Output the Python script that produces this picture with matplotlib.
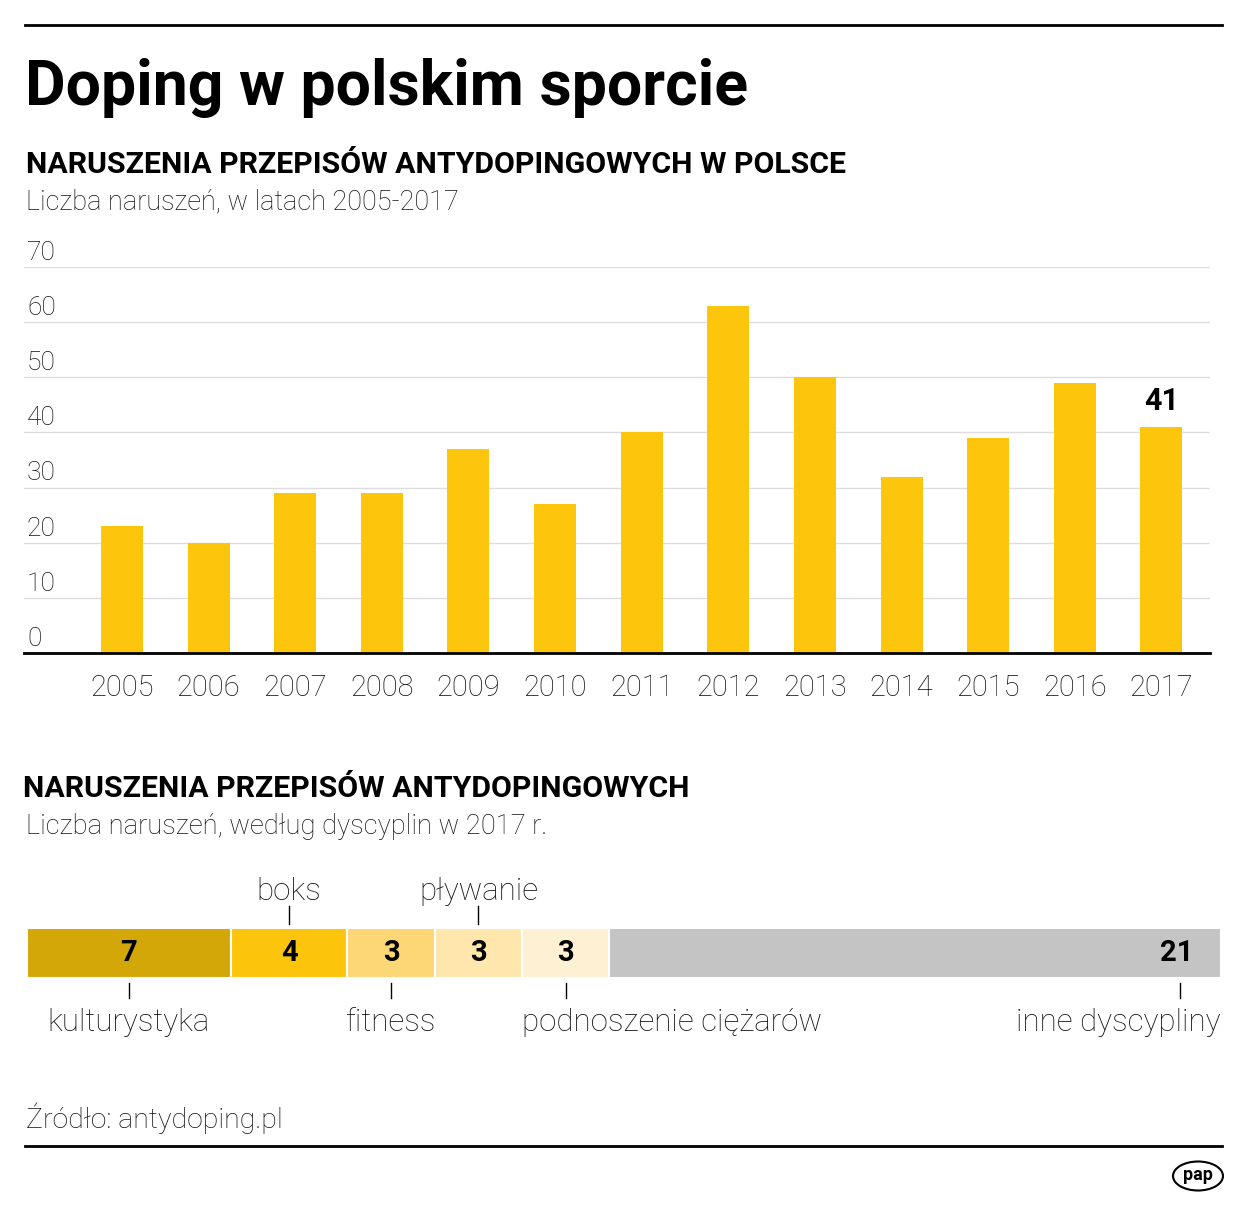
import numpy as np
import matplotlib
matplotlib.use('Agg')
import matplotlib.pyplot as plt
from matplotlib.patches import Ellipse

plt.rcParams['font.family'] = ['Roboto', 'DejaVu Sans']

# data
years = ['2005', '2006', '2007', '2008', '2009', '2010', '2011',
         '2012', '2013', '2014', '2015', '2016', '2017']
cases = [23, 20, 29, 29, 37, 27, 40, 63, 50, 32, 39, 49, 41]
yticks = [0, 10, 20, 30, 40, 50, 60, 70]

disciplines = ['kulturystyka', 'boks', 'fitness', 'pływanie',
               'podnoszenie ciężarów', 'inne dyscypliny']
disc_vals = [7, 4, 3, 3, 3, 21]
disc_cols = ['#D4A708', '#FDC40C', '#FDD775', '#FEE6AD', '#FEF0D2', '#C4C4C4']

W, H = 1250, 1205
TXT = '#111111'
fig = plt.figure(figsize=(W / 100, H / 100), dpi=100)

# overlay in pixel coords for texts and rules
ov = fig.add_axes([0, 0, 1, 1])
ov.set_xlim(0, W)
ov.set_ylim(H, 0)
ov.axis('off')

def px(x0, y0, x1, y1):
    return [x0 / W, 1 - y1 / H, (x1 - x0) / W, (y1 - y0) / H]

ov.plot([25, 1222], [25, 25], color='black', lw=2)
ov.plot([25, 1222], [1146, 1146], color='black', lw=2)

ov.text(25, 88, 'Doping w polskim sporcie', fontsize=45, fontweight='bold',
        va='center', ha='left')
ov.text(26, 165, 'NARUSZENIA PRZEPISÓW ANTYDOPINGOWYCH W POLSCE', fontsize=21.8,
        fontweight='bold', va='center', ha='left')
ov.text(26, 202, 'Liczba naruszeń, w latach 2005-2017', fontsize=19.5,
        fontweight='light', color=TXT, va='center', ha='left')

ov.text(23, 789, 'NARUSZENIA PRZEPISÓW ANTYDOPINGOWYCH', fontsize=21.8,
        fontweight='bold', va='center', ha='left')
ov.text(26, 826, 'Liczba naruszeń, według dyscyplin w 2017 r.', fontsize=19.7,
        fontweight='light', color=TXT, va='center', ha='left')

ov.text(26, 1118, 'Źródło: antydoping.pl', fontsize=20.5, fontweight='light',
        color=TXT, va='center', ha='left')

# pap logo
ov.add_patch(Ellipse((1198, 1176), 50, 29, facecolor='white',
                     edgecolor='black', lw=1.5))
ov.text(1198, 1175, 'pap', fontsize=13, fontweight='bold', ha='center',
        va='center')

# bar chart
ax = fig.add_axes(px(24, 267, 1210, 653))
x = np.arange(len(years))
ax.bar(x, cases, width=0.485, color='#FDC50C', zorder=2)
ax.set_xlim(-1.13, 12.56)
ax.set_ylim(0, 70)
ax.set_yticks(yticks)
ax.yaxis.grid(True, color='#DDDDDD', lw=1)
ax.set_axisbelow(True)
ax.tick_params(axis='y', length=0, labelleft=False)
ax.set_xticks(x)
ax.set_xticklabels(years, fontsize=21, fontweight='light', color=TXT)
ax.tick_params(axis='x', length=0, pad=15)
for s in ['top', 'right', 'left']:
    ax.spines[s].set_visible(False)
ax.spines['bottom'].set_linewidth(2)
ax.spines['bottom'].set_zorder(3)

for v in yticks:
    ax.annotate(str(v), xy=(0.0025, v), xycoords=('axes fraction', 'data'),
                xytext=(0, 1.5), textcoords='offset points', fontsize=19,
                fontweight='light', color=TXT, ha='left', va='bottom')

ax.annotate(str(cases[-1]), xy=(x[-1], cases[-1]), xytext=(0, 8),
            textcoords='offset points', fontsize=22, fontweight='bold',
            ha='center', va='bottom')

# stacked discipline bar
ax2 = fig.add_axes(px(27, 928, 1221, 978))
total = sum(disc_vals)
lefts = np.concatenate([[0], np.cumsum(disc_vals)[:-1]])
ax2.barh(0, disc_vals, left=lefts, height=1, color=disc_cols,
         edgecolor='white', lw=1.5)
ax2.set_xlim(0, total)
ax2.set_ylim(-0.5, 0.5)
ax2.axis('off')

unit = 1194 / total  # pixels per case
for i, (lab, v, l) in enumerate(zip(disciplines, disc_vals, lefts)):
    last = i == len(disc_vals) - 1
    if last:
        tx = total - 41 / unit
        ax2.text(total - 28 / unit, 0, str(v), fontsize=21, fontweight='bold',
                 ha='right', va='center')
    else:
        tx = l + v / 2
        ax2.text(tx, 0, str(v), fontsize=21, fontweight='bold',
                 ha='center', va='center')
    if lab in ('boks', 'pływanie'):
        ax2.plot([tx, tx], [1.08, 1.44], color='black', lw=1,
                 transform=ax2.get_xaxis_transform(), clip_on=False)
        ax2.annotate(lab, xy=(tx, 1), xycoords=('data', 'axes fraction'),
                     xytext=(0, 15.5), textcoords='offset points',
                     fontsize=22.5, fontweight='light', color=TXT,
                     ha='center', va='bottom')
    else:
        if lab == 'podnoszenie ciężarów':
            lx, ha = l, 'left'
        elif last:
            lx, ha = total, 'right'
        else:
            lx, ha = tx, 'center'
        ax2.plot([tx, tx], [-0.1, -0.4], color='black', lw=1,
                 transform=ax2.get_xaxis_transform(), clip_on=False)
        ax2.annotate(lab, xy=(lx, 0), xycoords=('data', 'axes fraction'),
                     xytext=(0, -21.5), textcoords='offset points',
                     fontsize=22.5, fontweight='light', color=TXT,
                     ha=ha, va='top')

fig.savefig('out.png', dpi=100)
